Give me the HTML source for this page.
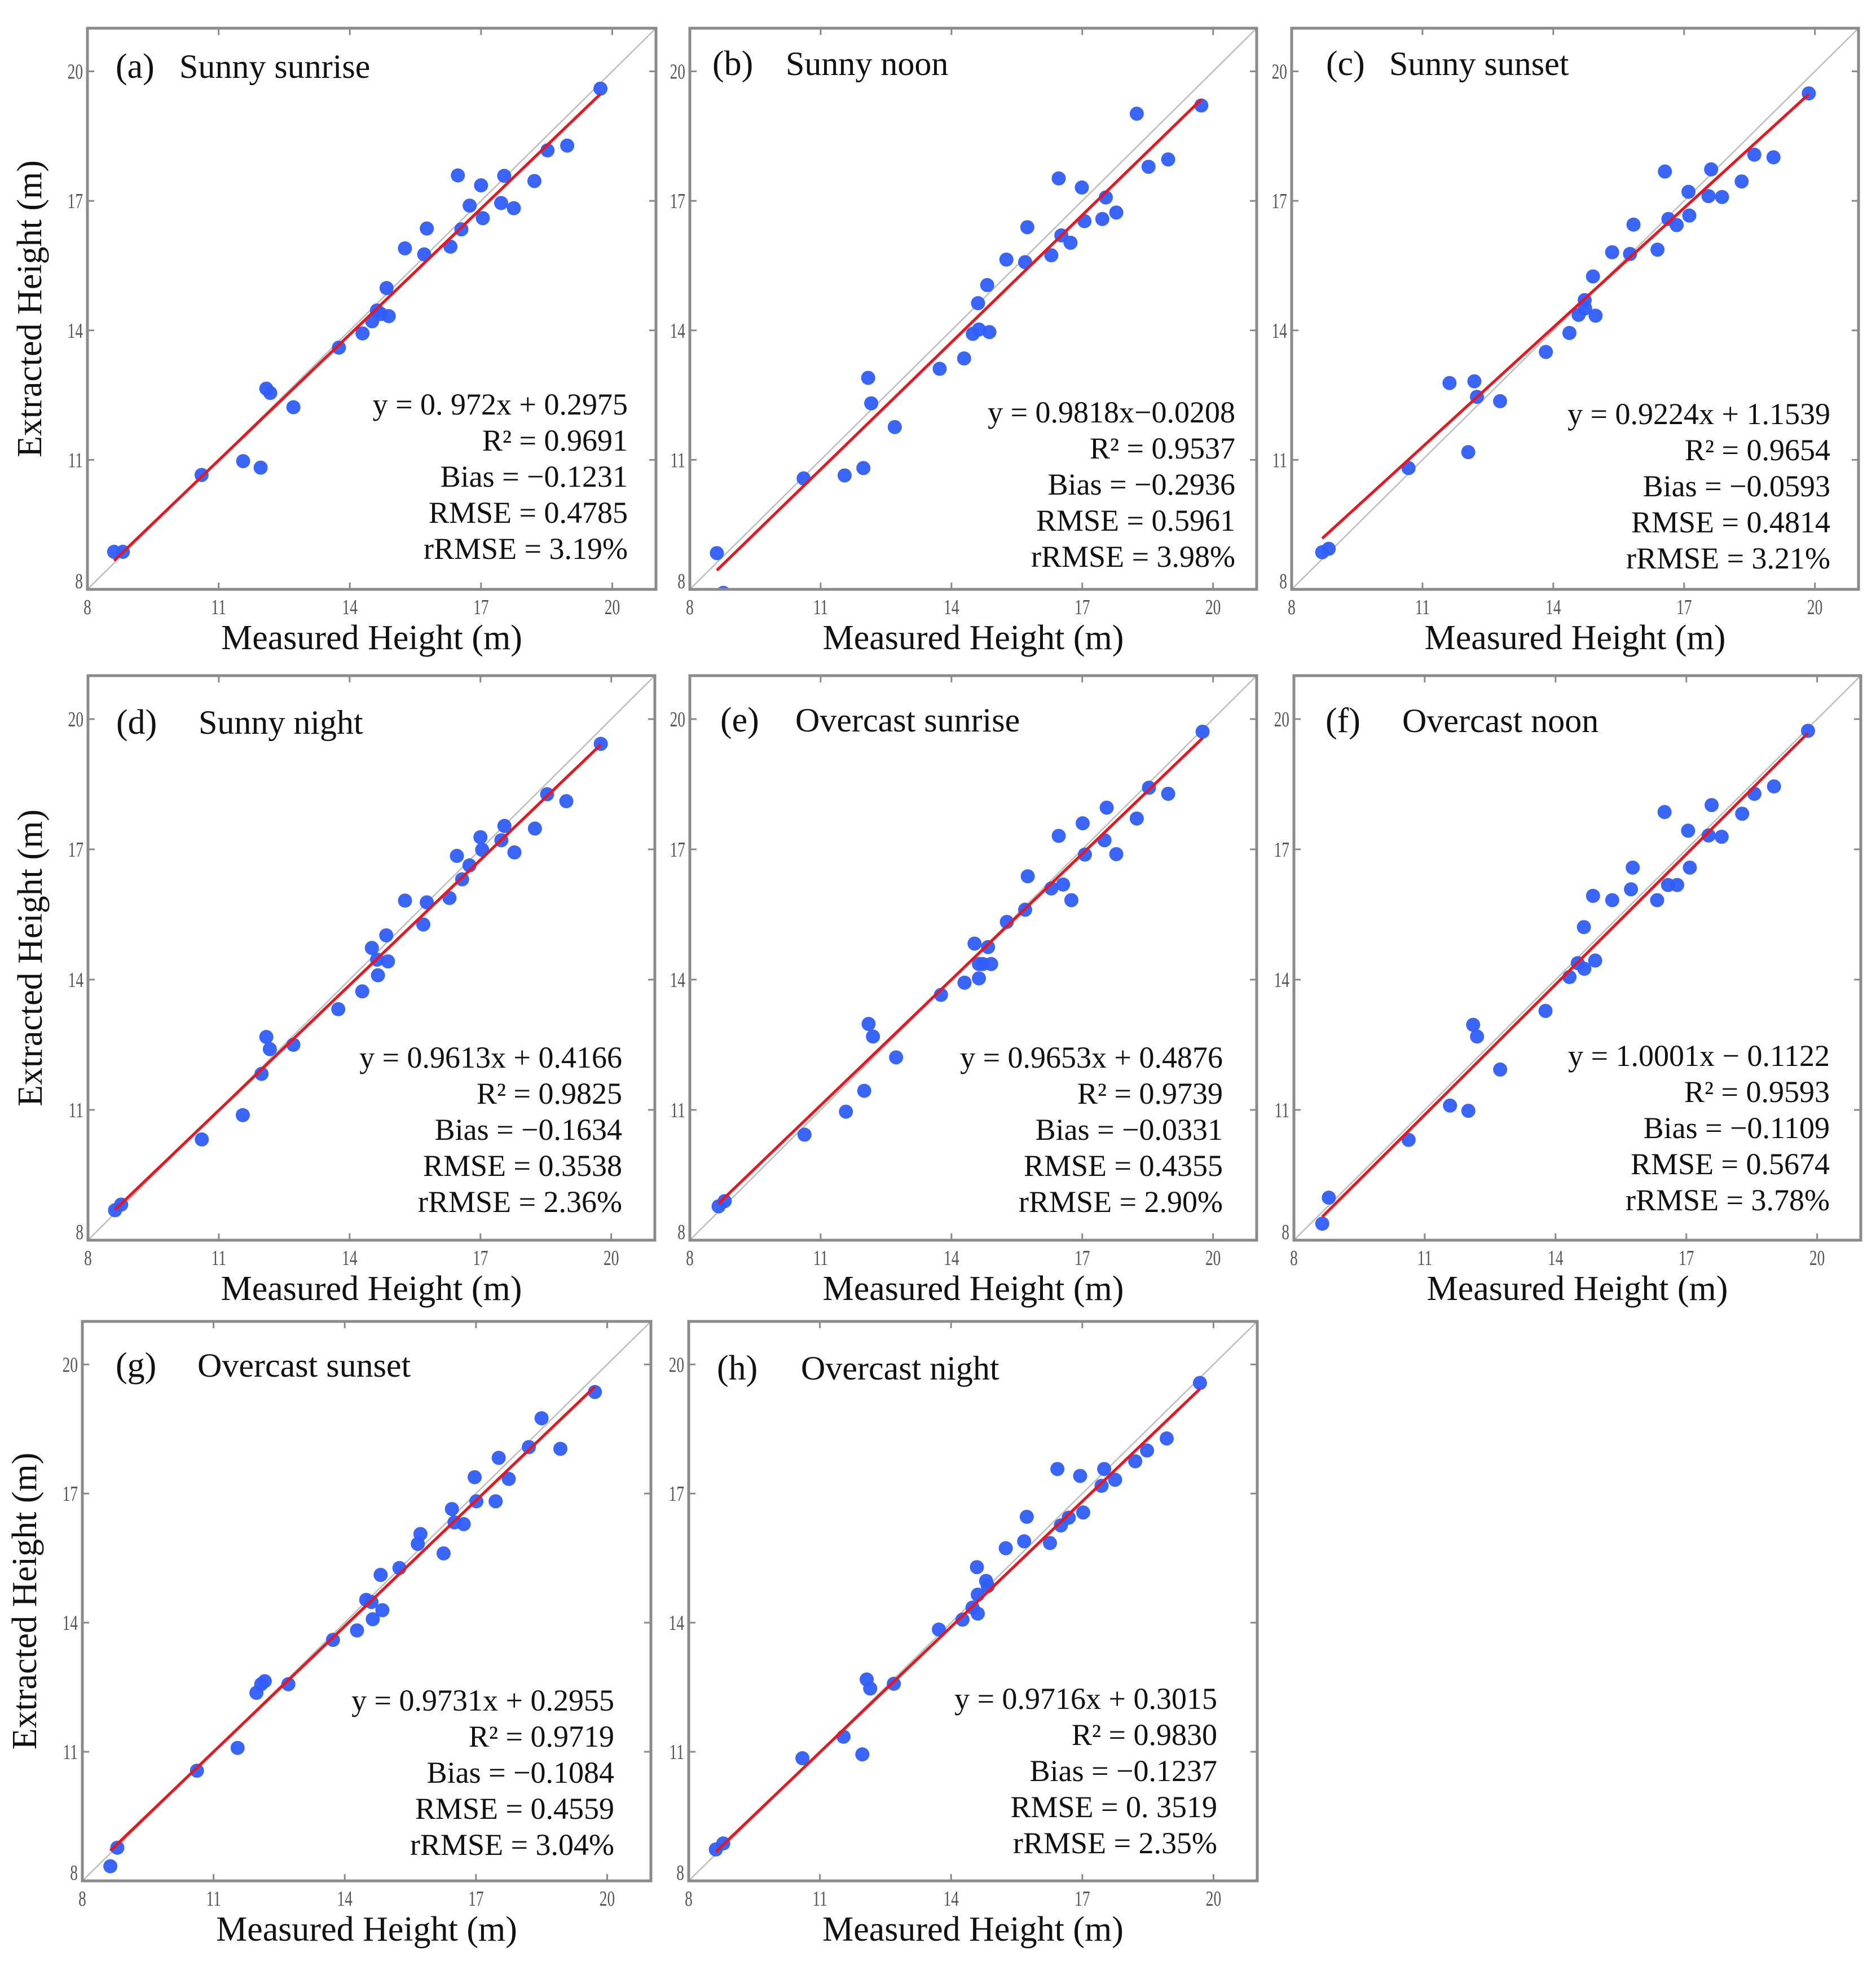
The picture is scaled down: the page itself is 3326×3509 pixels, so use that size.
<!DOCTYPE html>
<html><head><meta charset="utf-8"><style>
html,body{margin:0;padding:0;background:#fff;}
svg{display:block;}
text{font-family:"Liberation Serif",serif;}
</style></head>
<body>
<svg id="fig" xmlns="http://www.w3.org/2000/svg" width="3326" height="3509" viewBox="0 0 3326 3509"></svg>
<script>
// ---- data (Measured vs Extracted height, m) ----
const measuredA=[8.61,8.81,10.61,11.56,11.96,12.09,12.18,12.71,13.75,14.29,14.51,14.62,14.71,14.89,14.84,15.26,15.7,15.76,16.3,16.55,16.47,16.74,17.0,17.04,17.46,17.53,17.75,18.22,18.52,18.97,19.73];
const extractedA=[8.87,8.87,10.65,10.97,10.82,12.65,12.55,12.22,13.6,13.93,14.21,14.46,14.38,14.33,14.98,15.9,15.76,16.36,15.94,16.34,17.59,16.89,17.36,16.6,16.95,17.58,16.83,17.46,18.17,18.28,19.6];
const measuredB=[8.62,8.77,10.61,11.55,11.98,12.09,12.16,12.70,13.73,14.29,14.49,14.63,14.87,14.61,14.82,15.26,15.69,15.74,16.29,16.52,16.73,16.46,16.99,17.05,17.46,17.54,17.78,18.25,18.52,18.97,19.73];
const extractedB=[8.84,7.92,10.57,10.64,10.81,12.90,12.31,11.76,13.11,13.35,13.92,14.02,13.96,14.63,15.05,15.64,15.58,16.39,15.74,16.20,16.03,17.52,17.31,16.53,16.58,17.08,16.73,19.02,17.79,17.96,19.21];
const measuredC=[8.70,8.85,10.68,11.62,12.05,12.19,12.25,12.78,13.83,14.37,14.58,14.72,14.73,14.97,14.91,15.35,15.76,15.84,16.39,16.64,16.83,16.56,17.10,17.12,17.56,17.62,17.87,18.32,18.61,19.05,19.86];
const extractedC=[8.86,8.94,10.81,12.78,11.18,12.82,12.46,12.36,13.50,13.94,14.36,14.70,14.51,14.34,15.25,15.81,15.77,16.45,15.87,16.58,16.44,17.68,17.21,16.66,17.11,17.73,17.09,17.45,18.07,18.01,19.49];
const measuredD=[8.62,8.76,10.61,11.55,11.98,12.09,12.17,12.71,13.74,14.29,14.51,14.63,14.65,14.88,14.84,15.27,15.69,15.77,16.29,16.58,16.75,16.46,17.00,17.04,17.48,17.55,17.78,18.25,18.53,18.97,19.76];
const extractedD=[8.69,8.82,10.32,10.88,11.83,12.68,12.40,12.50,13.32,13.73,14.73,14.46,14.10,14.42,15.02,15.82,15.27,15.78,15.88,16.31,16.63,16.85,17.28,16.99,17.21,17.54,16.93,17.48,18.27,18.11,19.43];
const measuredE=[8.66,8.80,10.63,11.58,12.00,12.10,12.20,12.73,13.76,14.30,14.63,14.63,14.72,14.91,14.53,14.84,15.27,15.69,15.75,16.29,16.56,16.75,16.46,17.01,17.06,17.51,17.56,17.78,18.25,18.53,18.97,19.76];
const extractedE=[8.78,8.90,10.43,10.96,11.44,12.98,12.69,12.21,13.65,13.93,14.03,14.36,14.36,14.36,14.83,14.75,15.33,15.61,16.38,16.10,16.19,15.83,17.31,17.60,16.88,17.21,17.96,16.89,17.71,18.42,18.28,19.71];
const measuredF=[8.65,8.80,10.63,11.58,12.00,12.11,12.20,12.73,13.77,14.32,14.51,14.66,14.91,14.65,14.86,15.30,15.73,15.77,16.33,16.58,16.79,16.50,17.04,17.08,17.51,17.58,17.81,18.28,18.56,19.01,19.79];
const extractedF=[8.38,8.98,10.31,11.10,10.98,12.96,12.69,11.93,13.28,14.06,14.38,14.25,14.44,15.21,15.93,15.83,16.08,16.58,15.83,16.18,16.18,17.86,17.43,16.58,17.32,18.02,17.29,17.82,18.28,18.45,19.73];
const measuredG=[8.64,8.80,10.62,11.55,11.98,12.09,12.17,12.71,13.73,14.28,14.49,14.61,14.64,14.86,14.82,15.25,15.67,15.73,16.26,16.45,16.51,16.72,16.97,17.01,17.45,17.52,17.75,18.21,18.50,18.93,19.72];
const extractedG=[8.34,8.77,10.56,11.09,12.37,12.57,12.64,12.57,13.60,13.82,14.53,14.48,14.08,14.29,15.11,15.27,15.83,16.06,15.61,16.64,16.33,16.29,17.38,16.82,16.82,17.83,17.34,18.08,18.75,18.04,19.36];
const measuredH=[8.62,8.79,10.60,11.54,11.97,12.07,12.15,12.69,13.72,14.26,14.49,14.61,14.61,14.59,14.80,14.84,15.25,15.67,15.73,16.26,16.51,16.69,16.43,16.95,17.02,17.44,17.50,17.75,18.21,18.48,18.93,19.69];
const extractedH=[8.73,8.87,10.85,11.35,10.94,12.68,12.47,12.58,13.84,14.07,14.35,14.21,14.65,15.29,14.97,14.85,15.73,15.89,16.46,15.85,16.26,16.44,17.57,17.41,16.56,17.18,17.57,17.32,17.75,18.00,18.28,19.57];
const slopes=[0.972,0.9818,0.9224,0.9613,0.9653,1.0001,0.9731,0.9716];
const intercepts=[0.2975,-0.0208,1.1539,0.4166,0.4876,-0.1122,0.2955,0.3015];
const letters=["(a)","(b)","(c)","(d)","(e)","(f)","(g)","(h)"];
const titles=["Sunny sunrise","Sunny noon","Sunny sunset","Sunny night","Overcast sunrise","Overcast noon","Overcast sunset","Overcast night"];
const eqText=["y = 0. 972x + 0.2975","y = 0.9818x\u22120.0208","y = 0.9224x + 1.1539","y = 0.9613x + 0.4166","y = 0.9653x + 0.4876","y = 1.0001x \u2212 0.1122","y = 0.9731x + 0.2955","y = 0.9716x + 0.3015"];
const r2Text=["0.9691","0.9537","0.9654","0.9825","0.9739","0.9593","0.9719","0.9830"];
const biasText=["\u22120.1231","\u22120.2936","\u22120.0593","\u22120.1634","\u22120.0331","\u22120.1109","\u22120.1084","\u22120.1237"];
const rmseText=["0.4785","0.5961","0.4814","0.3538","0.4355","0.5674","0.4559","0. 3519"];
const rrmseText=["3.19%","3.98%","3.21%","2.36%","2.90%","3.78%","3.04%","2.35%"];
const tickValues=[11,14,17,20];
const axisMin=8, axisMax=21;

const XS=[measuredA,measuredB,measuredC,measuredD,measuredE,measuredF,measuredG,measuredH];
const YS=[extractedA,extractedB,extractedC,extractedD,extractedE,extractedF,extractedG,extractedH];
// layout (not data)
const layout=[
 {l:155,t:50,w:1008,h:995,tb:88,lx:50,tx:163,sb:685,sr:50},
 {l:1223,t:50,w:1005,h:995,tb:83,lx:40,tx:170,sb:699,sr:38},
 {l:2290,t:50,w:1005,h:995,tb:83,lx:61,tx:173,sb:702,sr:50},
 {l:156,t:1198,w:1005,h:1001,tb:103,lx:50,tx:196,sb:695,sr:58},
 {l:1223,t:1198,w:1005,h:1001,tb:99,lx:54,tx:187,sb:695,sr:60},
 {l:2294,t:1198,w:1005,h:1001,tb:100,lx:56,tx:192,sb:692,sr:55},
 {l:146,t:2343,w:1008,h:992,tb:98,lx:59,tx:204,sb:690,sr:65},
 {l:1221,t:2343,w:1008,h:992,tb:103,lx:50,tx:199,sb:687,sr:71}
];
const NS="http://www.w3.org/2000/svg";
const svg=document.getElementById('fig');
function mk(tag,parent){const e=document.createElementNS(NS,tag);parent.appendChild(e);return e;}
const defs=mk('defs',svg);

layout.forEach((L,i)=>{
  const g=mk('g',svg);
  
  
  const sx=v=>L.l+(v-axisMin)/(axisMax-axisMin)*L.w;
  const sy=v=>L.t+L.h-(v-axisMin)/(axisMax-axisMin)*L.h;
  const cp=mk('clipPath',defs); cp.setAttribute('id','cp'+i);
  const cr=mk('rect',cp); cr.setAttribute('x',L.l);cr.setAttribute('y',L.t);cr.setAttribute('width',L.w);cr.setAttribute('height',L.h);
  // 1:1 line
  const d=mk('line',g);
  
  
  d.setAttribute('x1',sx(axisMin));d.setAttribute('y1',sy(axisMin));d.setAttribute('x2',sx(axisMax));d.setAttribute('y2',sy(axisMax));
  d.setAttribute('stroke','#bdbdbd');d.setAttribute('stroke-width','2.5');
  // points
  const pg=mk('g',g); pg.setAttribute('clip-path','url(#cp'+i+')');
  
  
  const xs=XS[i], ys=YS[i];
  xs.forEach((x,j)=>{
    const c=mk('circle',pg);
    
    
    c.setAttribute('cx',sx(x));c.setAttribute('cy',sy(ys[j]));c.setAttribute('r','12.5');
    c.setAttribute('fill','#2f5dfb');c.setAttribute('fill-opacity','0.95');
  });
  // fit line
  const xmin=Math.min(...xs), xmax=Math.max(...xs);
  const f=mk('line',g);
  
  
  f.setAttribute('x1',sx(xmin));f.setAttribute('y1',sy(slopes[i]*xmin+intercepts[i]));
  f.setAttribute('x2',sx(xmax));f.setAttribute('y2',sy(slopes[i]*xmax+intercepts[i]));
  f.setAttribute('stroke','#e8161e');f.setAttribute('stroke-width','5');
  // frame
  const fr=mk('rect',g);
  
  
  fr.setAttribute('x',L.l);fr.setAttribute('y',L.t);fr.setAttribute('width',L.w);fr.setAttribute('height',L.h);
  fr.setAttribute('fill','none');fr.setAttribute('stroke','#8a8a8a');fr.setAttribute('stroke-width','5');
  // ticks
  tickValues.forEach(v=>{
    [[sx(v),L.t+L.h,sx(v),L.t+L.h-12],[sx(v),L.t,sx(v),L.t+12],[L.l,sy(v),L.l+12,sy(v)],[L.l+L.w,sy(v),L.l+L.w-12,sy(v)]].forEach(p=>{
      const t=mk('line',g);
      
      
      t.setAttribute('x1',p[0]);t.setAttribute('y1',p[1]);t.setAttribute('x2',p[2]);t.setAttribute('y2',p[3]);
      t.setAttribute('stroke','#8a8a8a');t.setAttribute('stroke-width','3');
    });
  });
  // tick labels
  [axisMin].concat(tickValues).forEach(v=>{
    const tx=mk('text',g);
    
    
    tx.setAttribute('x',sx(v));tx.setAttribute('y',L.t+L.h+44);
    tx.setAttribute('text-anchor','middle');tx.setAttribute('font-size','38');tx.setAttribute('fill','#555');
    tx.setAttribute('transform','translate('+sx(v)+',0) scale(0.72,1) translate('+(-sx(v))+',0)');
    tx.textContent=v;
    const ty=mk('text',g);
    
    
    const yy=(v===axisMin)?sy(v)-2:sy(v)+13;
    ty.setAttribute('x',L.l-8);ty.setAttribute('y',yy);
    ty.setAttribute('text-anchor','end');ty.setAttribute('font-size','38');ty.setAttribute('fill','#555');
    ty.setAttribute('transform','translate('+(L.l-8)+',0) scale(0.72,1) translate('+(-(L.l-8))+',0)');
    ty.textContent=v;
  });
  // title
  const lt=mk('text',g);
  
  
  lt.setAttribute('x',L.l+L.lx);lt.setAttribute('y',L.t+L.tb);lt.setAttribute('font-size','62');lt.setAttribute('fill','#111');
  lt.textContent=letters[i];
  const tt=mk('text',g);
  
  
  tt.setAttribute('x',L.l+L.tx);tt.setAttribute('y',L.t+L.tb);tt.setAttribute('font-size','60');tt.setAttribute('fill','#111');
  tt.textContent=titles[i];
  // stats
  const lines=[eqText[i],'R\u00b2 = '+r2Text[i],'Bias = '+biasText[i],'RMSE = '+rmseText[i],'rRMSE = '+rrmseText[i]];
  const names=['regression-equation','r-squared','bias-value','rmse-value','rrmse-value'];
  lines.forEach((s,k)=>{
    const st=mk('text',g);
    
    
    st.setAttribute('x',L.l+L.w-L.sr);st.setAttribute('y',L.t+L.sb+k*64);
    st.setAttribute('text-anchor','end');st.setAttribute('font-size','54');st.setAttribute('fill','#111');
    st.textContent=s;
  });
  // axis titles
  const xt=mk('text',g);
  
  
  xt.setAttribute('x',L.l+L.w/2);xt.setAttribute('y',L.t+L.h+106);
  xt.setAttribute('text-anchor','middle');xt.setAttribute('font-size','62');xt.setAttribute('fill','#111');
  xt.textContent='Measured Height (m)';
  if(i===0||i===3||i===6){
    const yt=mk('text',g);
    
    
    const cx=L.l-82, cy=L.t+L.h/2;
    yt.setAttribute('x',cx);yt.setAttribute('y',cy);
    yt.setAttribute('text-anchor','middle');yt.setAttribute('font-size','62');yt.setAttribute('fill','#111');
    yt.setAttribute('transform','rotate(-90 '+cx+' '+cy+')');
    yt.textContent='Extracted Height (m)';
  }
});
</script>
</body></html>
